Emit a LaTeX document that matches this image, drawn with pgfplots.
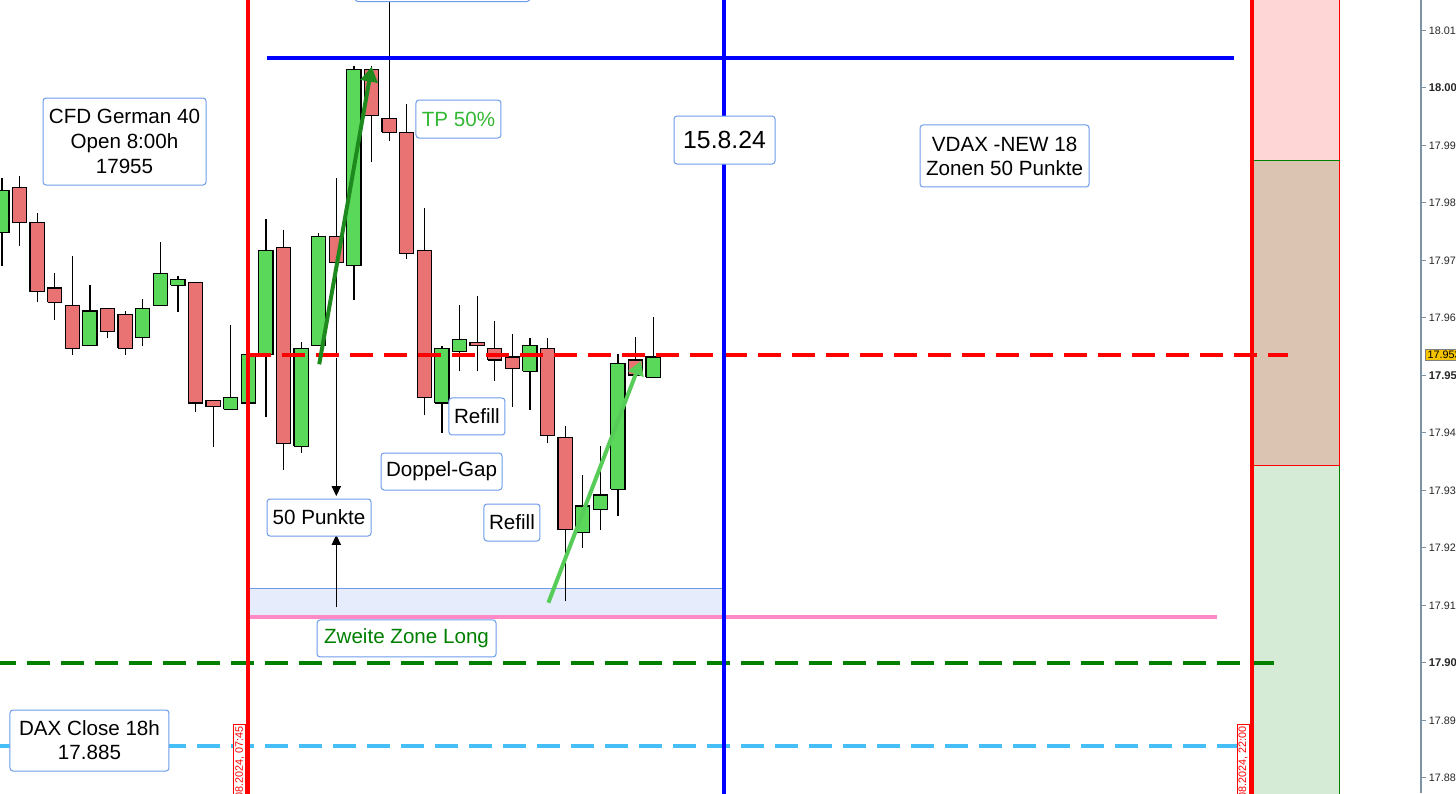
\documentclass[border=0pt]{standalone}
\usepackage{fontspec}
\setmainfont{Liberation Sans}
\usepackage{pgfplots}
\pgfplotsset{compat=1.18}
\usetikzlibrary{arrows.meta}

\definecolor{candred}{HTML}{E97373}
\definecolor{candgreen}{HTML}{5AD85A}
\definecolor{boxblue}{HTML}{6E9CEB}
\definecolor{zonepink}{HTML}{FFD6D6}
\definecolor{zonebrown}{HTML}{DBC4B1}
\definecolor{zonegreen}{HTML}{D6EBD6}
\definecolor{gapzone}{HTML}{E6ECFB}
\definecolor{daxblue}{HTML}{45BFF5}
\definecolor{pinkline}{HTML}{FF88C6}
\definecolor{darkgreen}{HTML}{008000}
\definecolor{tpgreen}{HTML}{33B833}
\definecolor{arrowdark}{HTML}{1E8A1E}
\definecolor{arrowlight}{HTML}{58CC58}
\definecolor{axisgrey}{HTML}{7D93A6}
\definecolor{pricetag}{HTML}{F5C400}

\newcommand{\roundtick}[1]{{\fontsize{5.6}{7}\selectfont\bfseries #1}}

\tikzset{
  note/.style={draw=boxblue, line width=0.5pt, rounded corners=1.5pt, fill=white,
    align=center, inner sep=0pt, font=\fontsize{10.3}{12.3}\selectfont},
  datetag/.style={draw=red, line width=0.4pt, fill=white, text=red, rotate=90,
    anchor=south east, inner sep=0.8pt, font=\fontsize{5.4}{6}\selectfont},
}

\begin{document}
\begin{tikzpicture}
\path[use as bounding box] (0,0) rectangle (728pt,396.5pt);
\clip (0,0) rectangle (728pt,396.5pt);
\begin{axis}[
  at={(0,0)}, anchor=south west, scale only axis,
  width=710.5pt, height=396.5pt,
  xmin=0.892, xmax=81.63, ymin=17877.39, ymax=18015.3,
  axis x line=none, axis y line*=right,
  axis line style={draw=axisgrey, line width=0.75pt},
  xtick=\empty,
  ytick={17880,17890,17900,17910,17920,17930,17940,17950,17960,17970,17980,17990,18000,18010},
  yticklabels={17.880,17.890,\roundtick{17.90},17.910,17.920,17.930,17.940,\roundtick{17.95},17.960,17.970,17.980,17.990,\roundtick{18.00},18.010},
  tick align=outside, major tick length=2.5pt,
  tick style={draw=axisgrey, line width=0.5pt},
  yticklabel style={font=\fontsize{5.4}{6}\selectfont, text=black!85, inner sep=1.2pt},
  unbounded coords=jump,
]
% VDAX zones
\addplot[draw=none, fill=zonepink] coordinates {(72,17987.3)(77,17987.3)(77,18020)(72,18020)};
\addplot[draw=none, fill=zonebrown] coordinates {(72,17934.3)(77,17934.3)(77,17987.3)(72,17987.3)};
\addplot[draw=none, fill=zonegreen] coordinates {(72,17870)(77,17870)(77,17934.3)(72,17934.3)};
\addplot[red, line width=0.5pt] coordinates {(77,18020)(77,17934.3)(72,17934.3)};
\addplot[darkgreen, line width=0.5pt] coordinates {(72,17987.3)(77,17987.3)};
\addplot[darkgreen, line width=0.5pt] coordinates {(77,17934.3)(77,17870)};
% second long zone
\addplot[draw=boxblue, line width=0.5pt, fill=gapzone] coordinates {(15,17908)(42,17908)(42,17912.9)(15,17912.9)(15,17908)};

% 15 min candles: wicks (low to high)
\addplot[black, line width=0.6pt] coordinates {
(1,17969.0)(1,17984.3)(1,nan) (2,17972.5)(2,17984.7)(2,nan) (3,17962.7)(3,17978.2)(3,nan)
(4,17959.6)(4,17967.8)(4,nan) (5,17953.6)(5,17970.8)(5,nan) (6,17955.2)(6,17965.7)(6,nan)
(7,17956.6)(7,17961.7)(7,nan) (8,17953.6)(8,17961.2)(8,nan) (9,17955.1)(9,17963.3)(9,nan)
(10,17962.2)(10,17973.2)(10,nan) (11,17961.1)(11,17967.3)(11,nan) (12,17943.7)(12,17966.2)(12,nan)
(13,17937.6)(13,17945.7)(13,nan) (14,17944.1)(14,17958.8)(14,nan) (15,17945.2)(15,17953.7)(15,nan)
(16,17942.7)(16,17977.2)(16,nan) (17,17933.6)(17,17975.3)(17,nan) (18,17936.6)(18,17955.9)(18,nan)
(19,17955.2)(19,17974.7)(19,nan) (20,17953.6)(20,17984.3)(20,nan) (21,17963.2)(21,18003.8)(21,nan)
(22,17987.2)(22,18003.8)(22,nan) (23,17990.7)(23,18030.0)(23,nan) (24,17970.2)(24,17997.2)(24,nan)
(25,17943.1)(25,17979.2)(25,nan) (26,17940.0)(26,17955.2)(26,nan) (27,17950.7)(27,17962.3)(27,nan)
(28,17950.7)(28,17963.8)(28,nan) (29,17949.1)(29,17959.4)(29,nan) (30,17944.6)(30,17957.2)(30,nan)
(31,17944.0)(31,17956.6)(31,nan) (32,17938.2)(32,17956.6)(32,nan) (33,17910.7)(33,17941.2)(33,nan)
(34,17920.0)(34,17932.7)(34,nan) (35,17923.1)(35,17937.7)(35,nan) (36,17925.6)(36,17953.7)(36,nan)
(37,17950.1)(37,17956.7)(37,nan) (38,17949.7)(38,17960.2)
};
% falling bodies (close to open)
\addplot[fill=candred, draw=black, line width=0.6pt] coordinates {
(1.6,17976.6)(2.4,17976.6)(2.4,17982.7)(1.6,17982.7)(1.6,17976.6)(2,nan)
(2.6,17964.6)(3.4,17964.6)(3.4,17976.6)(2.6,17976.6)(2.6,17964.6)(3,nan)
(3.6,17962.7)(4.4,17962.7)(4.4,17965.2)(3.6,17965.2)(3.6,17962.7)(4,nan)
(4.6,17954.7)(5.4,17954.7)(5.4,17962.2)(4.6,17962.2)(4.6,17954.7)(5,nan)
(6.6,17957.6)(7.4,17957.6)(7.4,17961.7)(6.6,17961.7)(6.6,17957.6)(7,nan)
(7.6,17954.7)(8.4,17954.7)(8.4,17960.6)(7.6,17960.6)(7.6,17954.7)(8,nan)
(11.6,17945.2)(12.4,17945.2)(12.4,17966.2)(11.6,17966.2)(11.6,17945.2)(12,nan)
(12.6,17944.6)(13.4,17944.6)(13.4,17945.7)(12.6,17945.7)(12.6,17944.6)(13,nan)
(16.6,17938.2)(17.4,17938.2)(17.4,17972.3)(16.6,17972.3)(16.6,17938.2)(17,nan)
(19.6,17969.7)(20.4,17969.7)(20.4,17974.2)(19.6,17974.2)(19.6,17969.7)(20,nan)
(21.6,17995.2)(22.4,17995.2)(22.4,18003.2)(21.6,18003.2)(21.6,17995.2)(22,nan)
(22.6,17992.3)(23.4,17992.3)(23.4,17994.7)(22.6,17994.7)(22.6,17992.3)(23,nan)
(23.6,17971.2)(24.4,17971.2)(24.4,17992.3)(23.6,17992.3)(23.6,17971.2)(24,nan)
(24.6,17946.2)(25.4,17946.2)(25.4,17971.8)(24.6,17971.8)(24.6,17946.2)(25,nan)
(27.6,17955.2)(28.4,17955.2)(28.4,17955.8)(27.6,17955.8)(27.6,17955.2)(28,nan)
(28.6,17952.7)(29.4,17952.7)(29.4,17954.7)(28.6,17954.7)(28.6,17952.7)(29,nan)
(29.6,17951.2)(30.4,17951.2)(30.4,17953.2)(29.6,17953.2)(29.6,17951.2)(30,nan)
(31.6,17939.6)(32.4,17939.6)(32.4,17954.7)(31.6,17954.7)(31.6,17939.6)(32,nan)
(32.6,17923.2)(33.4,17923.2)(33.4,17939.2)(32.6,17939.2)(32.6,17923.2)(33,nan)
(36.6,17950.1)(37.4,17950.1)(37.4,17952.7)(36.6,17952.7)(36.6,17950.1)
};
% rising bodies (open to close)
\addplot[fill=candgreen, draw=black, line width=0.6pt] coordinates {
(0.6,17974.8)(1.4,17974.8)(1.4,17982.1)(0.6,17982.1)(0.6,17974.8)(1,nan)
(5.6,17955.2)(6.4,17955.2)(6.4,17961.2)(5.6,17961.2)(5.6,17955.2)(6,nan)
(8.6,17956.6)(9.4,17956.6)(9.4,17961.7)(8.6,17961.7)(8.6,17956.6)(9,nan)
(9.6,17962.2)(10.4,17962.2)(10.4,17967.8)(9.6,17967.8)(9.6,17962.2)(10,nan)
(10.6,17965.7)(11.4,17965.7)(11.4,17966.7)(10.6,17966.7)(10.6,17965.7)(11,nan)
(13.6,17944.1)(14.4,17944.1)(14.4,17946.2)(13.6,17946.2)(13.6,17944.1)(14,nan)
(14.6,17945.2)(15.4,17945.2)(15.4,17953.7)(14.6,17953.7)(14.6,17945.2)(15,nan)
(15.6,17953.7)(16.4,17953.7)(16.4,17971.8)(15.6,17971.8)(15.6,17953.7)(16,nan)
(17.6,17937.7)(18.4,17937.7)(18.4,17954.7)(17.6,17954.7)(17.6,17937.7)(18,nan)
(18.6,17955.2)(19.4,17955.2)(19.4,17974.2)(18.6,17974.2)(18.6,17955.2)(19,nan)
(20.6,17969.1)(21.4,17969.1)(21.4,18003.2)(20.6,18003.2)(20.6,17969.1)(21,nan)
(25.6,17945.2)(26.4,17945.2)(26.4,17954.7)(25.6,17954.7)(25.6,17945.2)(26,nan)
(26.6,17954.2)(27.4,17954.2)(27.4,17956.2)(26.6,17956.2)(26.6,17954.2)(27,nan)
(30.6,17950.7)(31.4,17950.7)(31.4,17955.2)(30.6,17955.2)(30.6,17950.7)(31,nan)
(33.6,17922.7)(34.4,17922.7)(34.4,17927.3)(33.6,17927.3)(33.6,17922.7)(34,nan)
(34.6,17926.7)(35.4,17926.7)(35.4,17929.2)(34.6,17929.2)(34.6,17926.7)(35,nan)
(35.6,17930.2)(36.4,17930.2)(36.4,17952.1)(35.6,17952.1)(35.6,17930.2)(36,nan)
(37.6,17949.7)(38.4,17949.7)(38.4,17953.2)(37.6,17953.2)(37.6,17949.7)
};

% levels
\addplot[blue, line width=2pt] coordinates {(16.06,18005.2)(71.0,18005.2)};
\addplot[red, line width=2pt, dash pattern=on 11.5pt off 5.5pt] coordinates {(15,17953.6)(74.1,17953.6)};
\addplot[pinkline, line width=1.6pt] coordinates {(15,17908.0)(70.05,17908.0)};
\addplot[darkgreen, line width=2pt, dash pattern=on 11.5pt off 5.5pt] coordinates {(0.5,17900.0)(73.43,17900.0)};
\addplot[daxblue, line width=2pt, dash pattern=on 11.5pt off 5.5pt] coordinates {(0.5,17885.6)(71.45,17885.6)};

% session markers
\addplot[red, line width=2pt] coordinates {(15,17870)(15,18020)};
\addplot[blue, line width=2pt] coordinates {(42,17870)(42,18020)};
\addplot[red, line width=2pt] coordinates {(72,17870)(72,18020)};

% arrows
\addplot[arrowdark, line width=2pt, -{Triangle[length=7.5pt,width=8.5pt]}] coordinates {(19.03,17951.94)(22.01,18003.7)};
\addplot[arrowlight, line width=2pt, -{Triangle[length=7pt,width=8pt]}] coordinates {(32.05,17910.48)(37.30,17952.52)};
\addplot[black, line width=0.75pt, -{Triangle[length=5pt,width=4.5pt]}] coordinates {(20,17953.0)(20,17929.0)};
\addplot[black, line width=0.75pt, -{Triangle[length=5pt,width=4.5pt]}] coordinates {(20,17909.7)(20,17922.3)};

% notes
\node[note, minimum width=81.5pt, minimum height=43.5pt] at (axis cs:7.966,17990.69) {CFD German 40\\Open 8:00h\\17955};
\node[note, text=tpgreen, minimum width=42.5pt, minimum height=19pt] at (axis cs:26.94,17994.6) {TP 50\%};
\node[note, font=\fontsize{12.4}{14}\selectfont, minimum width=50.5pt, minimum height=24pt] at (axis cs:42.06,17990.95) {15.8.24};
\node[note, font=\fontsize{10.3}{12}\selectfont, minimum width=84.5pt, minimum height=31pt] at (axis cs:57.97,17988.17) {VDAX -NEW 18\\Zonen 50 Punkte};
\node[note, minimum width=28pt, minimum height=18.5pt] at (axis cs:27.99,17942.87) {Refill};
\node[note, minimum width=60.5pt, minimum height=18.5pt] at (axis cs:25.98,17933.3) {Doppel-Gap};
\node[note, minimum width=28pt, minimum height=18.5pt] at (axis cs:29.98,17924.43) {Refill};
\node[note, minimum width=52pt, minimum height=18.5pt] at (axis cs:19.02,17925.3) {50 Punkte};
\node[note, text=darkgreen, minimum width=89.5pt, minimum height=18.5pt] at (axis cs:23.99,17904.26) {Zweite Zone Long};
\node[note, font=\fontsize{10.3}{12}\selectfont, minimum width=79.5pt, minimum height=30.5pt] at (axis cs:5.977,17886.52) {DAX Close 18h\\17.885};
\node[note, anchor=south, minimum width=87.5pt, minimum height=20pt] at (axis cs:26.03,18014.95) {};
\node[datetag] at (axis cs:14.886,17889.39) {15.08.2024, 07:45};
\node[datetag] at (axis cs:71.886,17889.39) {15.08.2024, 22:00};
\coordinate (tag) at (axis cs:81.63,17953.6);
\end{axis}
\node[fill=pricetag, draw=gray, line width=0.4pt, inner sep=0.9pt, anchor=west,
  font=\fontsize{5.4}{6}\selectfont] at ([xshift=2.2pt]tag) {17.953};
\end{tikzpicture}
\end{document}
